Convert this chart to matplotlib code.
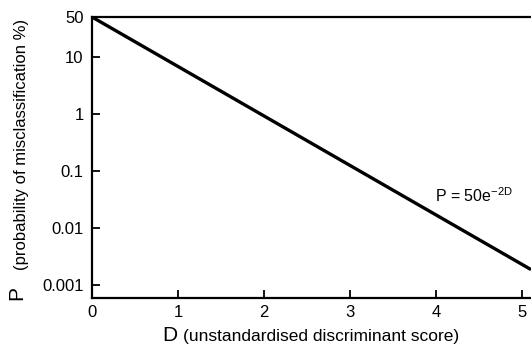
import numpy as np
import matplotlib.pyplot as plt

plt.rcParams['font.family'] = ['Liberation Sans', 'DejaVu Sans']

# line end points (straight on the log axis)
d_pts = [0.0, 5.1]
p_pts = [50.0, 0.00186]

x_ticks = [0, 1, 2, 3, 4, 5]
y_ticks = [0.001, 0.01, 0.1, 1, 10, 50]
y_labels = ['0.001', '0.01', '0.1', '1', '10', '50']

W, H = 531, 347
fig = plt.figure(figsize=(W / 100, H / 100), dpi=100)
ax = fig.add_axes([92 / W, 1 - 298 / H, 1 - 92 / W, (298 - 17) / H])

ax.plot(d_pts, p_pts, color='black', lw=2.4, solid_capstyle='butt')
ax.set_yscale('log')
ax.set_xlim(0, 5.1)
ax.set_ylim(0.00059, 50)

ax.set_xticks(x_ticks)
ax.set_xticklabels([str(t) for t in x_ticks])
ax.set_yticks(y_ticks)
ax.set_yticklabels(y_labels)
ax.yaxis.set_minor_locator(plt.NullLocator())
ax.tick_params(direction='in', length=6, width=1.3, labelsize=12)
ax.tick_params(axis='y', pad=6)
ax.tick_params(axis='x', pad=5)

for s in ['left', 'bottom', 'top']:
    ax.spines[s].set_linewidth(1.6)
ax.spines['right'].set_visible(False)

ax.text(3.99, 0.0284, 'P = 50e$^{\\mathregular{-2D}}$', fontsize=11.5, ha='left', va='baseline')

# axis titles: big letter then smaller description
fig.text(17 / W, 1 - 300 / H, 'P', fontsize=15, rotation=90, ha='center', va='bottom')
fig.text(22 / W, 1 - 270 / H, '(probability of misclassification %)', fontsize=12,
         rotation=90, ha='center', va='bottom')
fig.text(162 / W, 1 - 341 / H, 'D', fontsize=15, ha='left', va='baseline')
fig.text(183 / W, 1 - 341 / H, '(unstandardised discriminant score)', fontsize=12.5,
         ha='left', va='baseline')

fig.savefig('out.png', dpi=100)
